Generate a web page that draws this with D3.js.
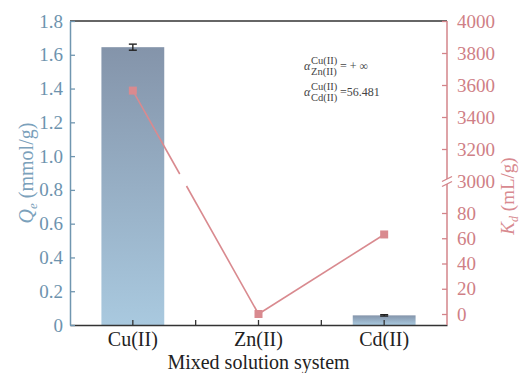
<!DOCTYPE html>
<html><head><meta charset="utf-8">
<script src="https://cdn.jsdelivr.net/npm/d3@7"></script>
<style>body{margin:0;background:#fff}svg{display:block}</style>
</head><body>
<svg id="c" width="521" height="373"></svg>
<script>
const categories = ["Cu(II)", "Zn(II)", "Cd(II)"];
const qeValues = [1.645, 0, 0.057];
const qeErrors = [0.018, 0, 0.004];
const kdValues = [3565, 0, 63];
const leftTicks = [0, 0.2, 0.4, 0.6, 0.8, 1.0, 1.2, 1.4, 1.6, 1.8];
const rightLowTicks = [0, 20, 40, 60, 80];
const rightHighTicks = [3000, 3200, 3400, 3600, 3800, 4000];

const svg = d3.select("#c");
const L = 70, R = 447, T = 21, B = 325;
const blue = "#7096b0", blueText = "#6d93ae", red = "#d3848a", redText = "#cf7f86";
const font = "'Liberation Serif', 'Times New Roman', serif";

const x = d3.scaleBand().domain(categories).range([L, R]).padding(0);
const yL = d3.scaleLinear().domain([0, 1.8]).range([B, T]);
const kLow = d3.scaleLinear().domain([0, 80]).range([314, 213]);
const kHigh = d3.scaleLinear().domain([3000, 4000]).range([181, T]);
const kY = v => v >= 3000 ? kHigh(v) : kLow(v);

const defs = svg.append("defs");
const g = defs.append("linearGradient").attr("id", "bg").attr("x1", 0).attr("y1", 0).attr("x2", 0).attr("y2", 1);
g.append("stop").attr("offset", "0%").attr("stop-color", "#8494aa");
g.append("stop").attr("offset", "100%").attr("stop-color", "#a9c9df");

// bars
const bw = x.bandwidth() / 2;
svg.append("g").selectAll("rect").data(categories).join("rect")
  .attr("x", d => x(d) + x.bandwidth() / 2 - bw / 2)
  .attr("width", bw)
  .attr("y", (d, i) => yL(qeValues[i]))
  .attr("height", (d, i) => B - yL(qeValues[i]))
  .attr("fill", "url(#bg)");

// error bars
const eg = svg.append("g").attr("stroke", "#222").attr("stroke-width", 1.4);
categories.forEach((c, i) => {
  if (qeValues[i] <= 0) return;
  const cx = x(c) + x.bandwidth() / 2;
  const y1 = yL(qeValues[i] + qeErrors[i]), y2 = yL(qeValues[i] - qeErrors[i]);
  eg.append("line").attr("x1", cx).attr("x2", cx).attr("y1", y1).attr("y2", y2);
  eg.append("line").attr("x1", cx - 4).attr("x2", cx + 4).attr("y1", y1).attr("y2", y1);
  eg.append("line").attr("x1", cx - 4).attr("x2", cx + 4).attr("y1", y2).attr("y2", y2);
});

// frame top
svg.append("line").attr("x1", L).attr("x2", R).attr("y1", T).attr("y2", T).attr("stroke", "#333").attr("stroke-width", 1.3);

// x axis
const xa = svg.append("g").attr("transform", `translate(0,${B})`)
  .call(d3.axisBottom(x).tickSizeInner(-5).tickSizeOuter(0).tickPadding(7));
xa.select(".domain").attr("stroke", "#333").attr("stroke-width", 1.3);
xa.selectAll(".tick line").attr("stroke", "#333").attr("stroke-width", 1.3);
xa.selectAll("text").attr("font-family", font).attr("font-size", 20).attr("fill", "#222");
svg.append("g").selectAll("line").data(categories.slice(1)).join("line")
  .attr("x1", d => x(d)).attr("x2", d => x(d)).attr("y1", B).attr("y2", B - 5)
  .attr("stroke", "#333").attr("stroke-width", 1.3);

// left axis
const la = svg.append("g").attr("transform", `translate(${L},0)`)
  .call(d3.axisLeft(yL).tickValues(leftTicks).tickFormat(d => d === 0 ? "0" : d3.format(".1f")(d)).tickSizeInner(-5).tickSizeOuter(0).tickPadding(7));
la.select(".domain").attr("stroke", blue).attr("stroke-width", 1.5);
la.selectAll(".tick line").attr("stroke", blue).attr("stroke-width", 1.3);
la.selectAll("text").attr("font-family", font).attr("font-size", 19).attr("fill", blueText);

// right axis (broken)
const ra1 = svg.append("g").attr("transform", `translate(${R},0)`)
  .call(d3.axisRight(kLow).tickValues(rightLowTicks).tickFormat(d3.format("d")).tickSizeInner(-5).tickSizeOuter(0).tickPadding(10));
const ra2 = svg.append("g").attr("transform", `translate(${R},0)`)
  .call(d3.axisRight(kHigh).tickValues(rightHighTicks).tickFormat(d3.format("d")).tickSizeInner(-5).tickSizeOuter(0).tickPadding(10));
[ra1, ra2].forEach(a => {
  a.select(".domain").remove();
  a.selectAll(".tick line").attr("stroke", red).attr("stroke-width", 1.3);
  a.selectAll("text").attr("font-family", font).attr("font-size", 19).attr("fill", redText);
});
ra2.selectAll(".tick").filter(d => d === 3000).select("line").remove();
svg.append("line").attr("x1", R).attr("x2", R).attr("y1", T).attr("y2", 179).attr("stroke", red).attr("stroke-width", 1.5);
svg.append("line").attr("x1", R).attr("x2", R).attr("y1", 184).attr("y2", B).attr("stroke", red).attr("stroke-width", 1.5);
[179, 184].forEach(yy => {
  svg.append("line").attr("x1", R - 5).attr("x2", R + 5).attr("y1", yy + 2.5).attr("y2", yy - 2.5)
    .attr("stroke", red).attr("stroke-width", 1.3);
});

// Kd line with break gap
const pts = categories.map((c, i) => [x(c) + x.bandwidth() / 2, kY(kdValues[i])]);
const lg = svg.append("g").attr("stroke", "#d98a8f").attr("stroke-width", 1.6).attr("fill", "none");
function seg(p, q) {
  const gapTop = 174, gapBot = 186;
  if ((p[1] < gapTop && q[1] > gapBot) || (q[1] < gapTop && p[1] > gapBot)) {
    const at = yy => [p[0] + (q[0] - p[0]) * (yy - p[1]) / (q[1] - p[1]), yy];
    const a = at(gapTop), b = at(gapBot);
    lg.append("line").attr("x1", p[0]).attr("y1", p[1]).attr("x2", a[0]).attr("y2", a[1]);
    lg.append("line").attr("x1", b[0]).attr("y1", b[1]).attr("x2", q[0]).attr("y2", q[1]);
  } else {
    lg.append("line").attr("x1", p[0]).attr("y1", p[1]).attr("x2", q[0]).attr("y2", q[1]);
  }
}
for (let i = 0; i < pts.length - 1; i++) seg(pts[i], pts[i + 1]);
svg.append("g").selectAll("rect").data(pts).join("rect")
  .attr("x", d => d[0] - 4).attr("y", d => d[1] - 4).attr("width", 8).attr("height", 8)
  .attr("fill", "#d98a8f");

// axis titles
const lt = svg.append("text").attr("transform", "translate(33,173) rotate(-90)")
  .attr("text-anchor", "middle").attr("font-family", font).attr("font-size", 20).attr("fill", "#7ba1bb");
lt.append("tspan").attr("font-style", "italic").text("Q");
lt.append("tspan").attr("font-style", "italic").attr("font-size", 13).attr("dy", 4).text("e");
lt.append("tspan").attr("dy", -4).text(" (mmol/g)");

const rt = svg.append("text").attr("transform", "translate(514,196) rotate(-90)")
  .attr("text-anchor", "middle").attr("font-family", font).attr("font-size", 19).attr("fill", "#d88a90");
rt.append("tspan").attr("font-style", "italic").text("K");
rt.append("tspan").attr("font-style", "italic").attr("font-size", 12).attr("dy", 4).text("d");
rt.append("tspan").attr("dy", -4).text(" (mL/g)");

svg.append("text").attr("x", (L + R) / 2).attr("y", 369).attr("text-anchor", "middle")
  .attr("font-family", font).attr("font-size", 20).attr("fill", "#222").text("Mixed solution system");

// annotation
function alpha(y0, sub, rhs) {
  const a = svg.append("g").attr("font-family", font).attr("fill", "#444");
  a.append("text").attr("x", 304).attr("y", y0).attr("font-size", 12).attr("font-style", "italic").text("α");
  a.append("text").attr("x", 311).attr("y", y0 - 6).attr("font-size", 10.5).text("Cu(II)");
  a.append("text").attr("x", 311).attr("y", y0 + 5).attr("font-size", 10.5).text(sub);
  a.append("text").attr("x", 340).attr("y", y0).attr("font-size", 12).text(rhs);
}
alpha(70, "Zn(II)", "= + ∞");
alpha(96, "Cd(II)", "=56.481");
</script>
</body></html>
